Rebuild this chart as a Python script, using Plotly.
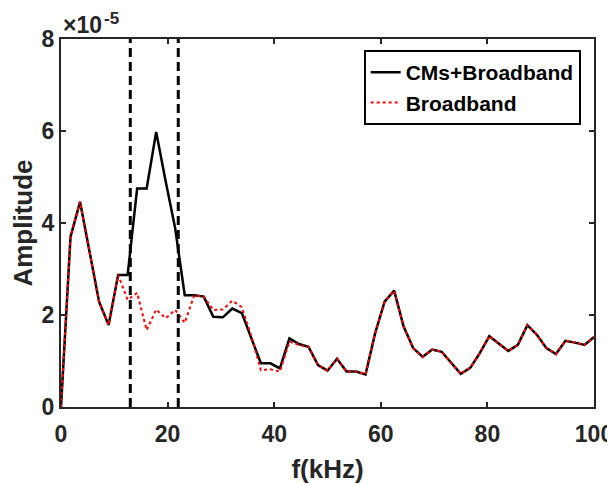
import numpy as np
import plotly.graph_objects as go

# frequency axis (kHz): 57 spectral bins from 0 to 100 kHz
n_bins = 57
freq_khz = [i * 100.0 / (n_bins - 1) for i in range(n_bins)]

# amplitudes in units of 1e-5
cms_broadband = [0.0, 3.7, 4.46, 3.35, 2.29, 1.78, 2.87, 2.87, 4.75, 4.75,
                 5.98, 4.9, 3.88, 2.43, 2.43, 2.40, 1.96, 1.95, 2.14, 2.04,
                 1.49, 0.95, 0.95, 0.84, 1.49, 1.37, 1.31, 0.91, 0.79, 1.05,
                 0.77, 0.77, 0.71, 1.60, 2.29, 2.53, 1.75, 1.28, 1.09, 1.25,
                 1.20, 0.95, 0.72, 0.85, 1.17, 1.54, 1.38, 1.22, 1.35, 1.78,
                 1.57, 1.28, 1.15, 1.44, 1.40, 1.35, 1.52]
broadband = [0.0, 3.7, 4.46, 3.35, 2.29, 1.78, 2.87, 2.33, 2.48, 1.67,
             2.12, 1.93, 2.11, 1.83, 2.43, 2.40, 2.11, 2.12, 2.31, 2.17,
             1.54, 0.80, 0.82, 0.77, 1.42, 1.35, 1.31, 0.91, 0.79, 1.05,
             0.77, 0.77, 0.71, 1.60, 2.29, 2.53, 1.75, 1.28, 1.09, 1.25,
             1.20, 0.95, 0.72, 0.85, 1.17, 1.54, 1.38, 1.22, 1.35, 1.78,
             1.57, 1.28, 1.15, 1.44, 1.40, 1.35, 1.52]
band_edges_khz = [13.0, 22.0]

x_ticks = [0, 20, 40, 60, 80, 100]
y_ticks = [0, 2, 4, 6, 8]
y_tick_labels = ["0", "2", "4", "6", "8"]
scale = 1e-5
exp_base, exp_power = "×10", "-5"

font_family = "Liberation Sans, Arial, sans-serif"
axis_col = "#262626"

fig = go.Figure()
fig.add_trace(go.Scatter(
    x=freq_khz, y=[v * scale for v in cms_broadband], mode="lines",
    name="CMs+Broadband", line=dict(color="black", width=2.5)))
fig.add_trace(go.Scatter(
    x=freq_khz, y=[v * scale for v in broadband], mode="lines",
    name="Broadband", line=dict(color="red", width=2, dash="dot")))

for xe in band_edges_khz:
    fig.add_trace(go.Scatter(
        x=[xe, xe], y=[0, 8 * scale], mode="lines", showlegend=False,
        line=dict(color="black", width=3, dash="9px,5px"), hoverinfo="skip"))

tickfont = dict(family=font_family, size=23, color=axis_col, weight="bold")
titlefont = dict(family=font_family, size=26, color=axis_col, weight="bold")
# the page body adds an 8px offset, so the figure is 8px smaller than the window
fig.update_layout(
    width=607, height=476,
    margin=dict(l=53, r=21, t=31, b=77, autoexpand=False),
    paper_bgcolor="white", plot_bgcolor="white",
    showlegend=True,
    legend=dict(x=0.975, y=0.970, xanchor="right", yanchor="top",
                bordercolor="black", borderwidth=2, bgcolor="white",
                font=dict(family=font_family, size=21, color="black", weight="bold"),
                tracegroupgap=0, itemwidth=30),
    font=dict(family=font_family),
)
fig.update_xaxes(
    range=[0, 100], tickvals=x_ticks, ticks="inside", ticklen=5, tickwidth=1.5,
    tickcolor=axis_col, showline=True, linewidth=2, linecolor=axis_col,
    mirror="ticks", showgrid=False, zeroline=False, tickfont=tickfont,
    automargin=False, ticklabelstandoff=5,
    title=dict(text="f(kHz)", font=titlefont, standoff=14))
fig.update_yaxes(
    range=[0, 8 * scale], tickvals=[t * scale for t in y_ticks], ticktext=y_tick_labels,
    ticks="inside", ticklen=5, tickwidth=1.5, tickcolor=axis_col,
    showline=True, linewidth=2, linecolor=axis_col, mirror="ticks",
    showgrid=False, zeroline=False, tickfont=tickfont, automargin=False,
    title=dict(text="Amplitude", font=titlefont, standoff=6))
fig.add_annotation(
    x=0, y=1.0, xref="paper", yref="paper", xanchor="left", yanchor="bottom",
    text=exp_base, showarrow=False, yshift=-1, xshift=0,
    font=dict(family=font_family, size=23, color=axis_col, weight="bold"))
fig.add_annotation(
    x=0, y=1.0, xref="paper", yref="paper", xanchor="left", yanchor="bottom",
    text=exp_power, showarrow=False, yshift=9, xshift=41,
    font=dict(family=font_family, size=17, color=axis_col, weight="bold"))

fig.write_html("out.html")
